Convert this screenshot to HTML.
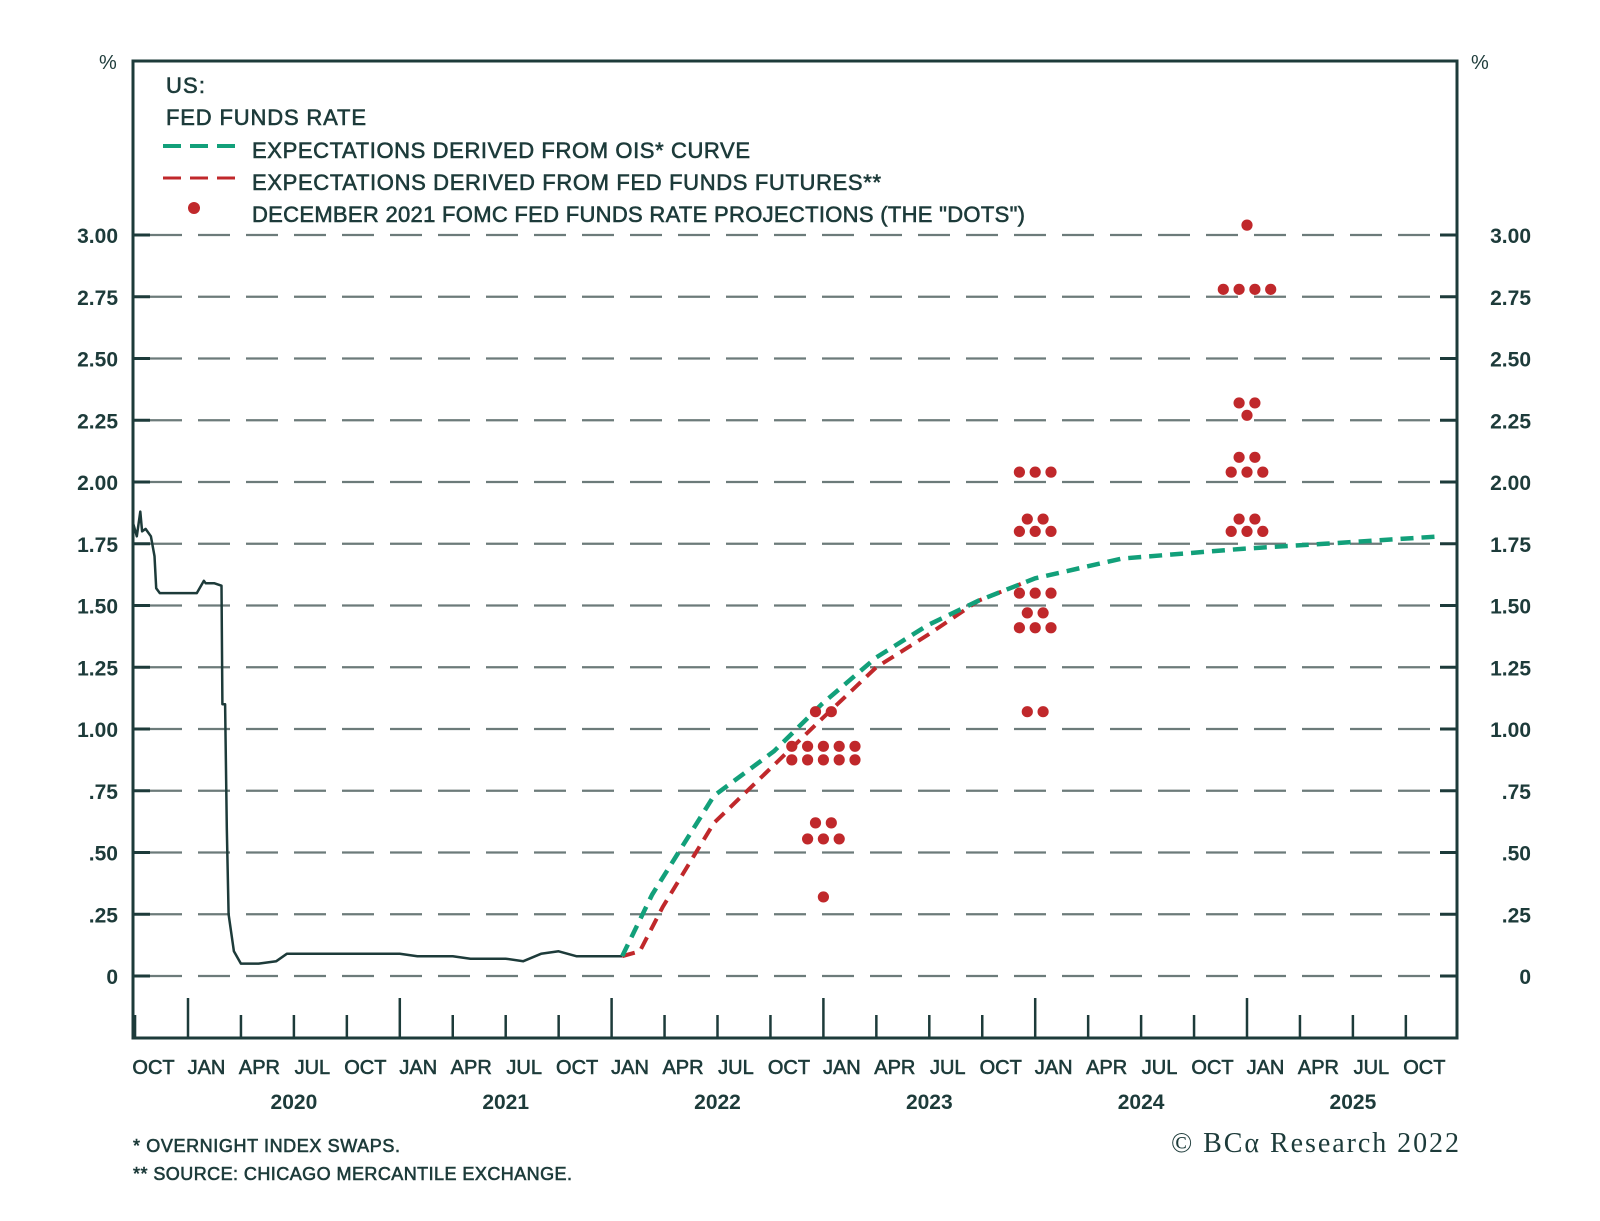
<!DOCTYPE html>
<html><head><meta charset="utf-8"><style>
body{margin:0;background:#fff}
svg{display:block}
text{font-family:"Liberation Sans",sans-serif;fill:#1d3b3a}
.med{stroke:#1d3b3a;stroke-width:0.6}
</style></head><body>
<svg id="chart" width="1600" height="1221" viewBox="0 0 1600 1221" xmlns="http://www.w3.org/2000/svg"></svg>
<script>
// ---- data ----
const yTicks = [0, 0.25, 0.5, 0.75, 1.0, 1.25, 1.5, 1.75, 2.0, 2.25, 2.5, 2.75, 3.0];
const yTickLabels = ["0", ".25", ".50", ".75", "1.00", "1.25", "1.50", "1.75", "2.00", "2.25", "2.50", "2.75", "3.00"];
const quarterLabels = ["OCT","JAN","APR","JUL","OCT","JAN","APR","JUL","OCT","JAN","APR","JUL","OCT","JAN","APR","JUL","OCT","JAN","APR","JUL","OCT","JAN","APR","JUL","OCT"];
const yearLabels = ["2020","2021","2022","2023","2024","2025"];
// months since Jan 2020
const ffMonths = [-3.1,-2.9,-2.7,-2.6,-2.4,-2.1,-1.9,-1.8,-1.6,-1.3,0,0.5,0.9,1.0,1.5,1.9,1.95,2.1,2.2,2.3,2.6,3.0,4.0,5.0,5.6,6.5,8,10,11,12,13,15,16,18,19,20,21,22,24.6];
const ffValues = [1.83,1.78,1.88,1.80,1.81,1.78,1.70,1.57,1.55,1.55,1.55,1.55,1.60,1.59,1.59,1.58,1.10,1.10,0.60,0.25,0.10,0.05,0.05,0.06,0.09,0.09,0.09,0.09,0.09,0.09,0.08,0.08,0.07,0.07,0.06,0.09,0.10,0.08,0.08];
const oisMonths = [24.6,26.3,29.8,33.2,35.9,39.0,41.9,44.8,48.0,52.9,59.8,64.4,71.0];
const oisValues = [0.08,0.33,0.73,0.91,1.10,1.29,1.42,1.52,1.61,1.69,1.73,1.75,1.78];
const futMonths = [24.6,25.6,26.9,29.8,32.7,35.9,39.0,41.9,44.8,48.0];
const futValues = [0.08,0.10,0.28,0.62,0.82,1.04,1.25,1.38,1.52,1.61];
// dot rows: month position, value, count
const dotMonths = [36,36,36,36,36,36, 48,48,48,48,48,48,48, 60,60,60,60,60,60,60,60];
const dotValues = [0.32,0.555,0.62,0.875,0.93,1.07, 1.07,1.41,1.47,1.55,1.80,1.85,2.04, 1.80,1.85,2.04,2.10,2.27,2.32,2.78,3.04];
const dotCounts = [1,3,2,5,5,2, 2,3,2,3,3,2,3, 3,2,3,2,1,2,4,1];

// ---- axes ----
const X0=188, XM=17.65, Y0=976, YU=247;
const xs = m => X0 + m*XM;
const ys = v => Y0 - v*YU;
const L=133,R=1457,T=61,B=1038;
const svg=document.getElementById('chart');
const NS="http://www.w3.org/2000/svg";
function mk(tag,attrs,parent){const e=document.createElementNS(NS,tag);for(const k in attrs)e.setAttribute(k,attrs[k]);(parent||svg).appendChild(e);return e;}

// gridlines & y labels
const grid=mk('g',{});


yTicks.forEach((v,i)=>{
  const y=ys(v);
  const gl=mk('line',{x1:L,x2:R,y1:y,y2:y,stroke:'#6c7b7a','stroke-width':2.2,'stroke-dasharray':'32 16','stroke-dashoffset':-17},grid);
  
  
  mk('line',{x1:L,x2:L+17,y1:y,y2:y,stroke:'#1d3b3a','stroke-width':3},grid);
  mk('line',{x1:R-17,x2:R,y1:y,y2:y,stroke:'#1d3b3a','stroke-width':3},grid);
  const tl=mk('text',{x:118,y:y+8,'text-anchor':'end','font-size':21,'font-weight':'bold'});
  tl.textContent=yTickLabels[i];
  
  
  const tr=mk('text',{x:1531,y:y+8,'text-anchor':'end','font-size':21,'font-weight':'bold'});
  tr.textContent=yTickLabels[i];
  
  
});

// frame
const fr=mk('rect',{x:L,y:T,width:R-L,height:B-T,fill:'none',stroke:'#1d3b3a','stroke-width':3});



// x ticks
for(let q=-1;q<=24;q++){
  const m=q*3, x=xs(m);
  if(x<=L||x>=R) continue;
  const major=(q%4===0);
  const t=mk('line',{x1:x,x2:x,y1:major?998:1015,y2:B,stroke:'#1d3b3a','stroke-width':2.5});
  
  
}
quarterLabels.forEach((lab,i)=>{
  const m=(i-1)*3+1.5;
  const t=mk('text',{x:xs(m)-8,y:1074,'text-anchor':'middle','font-size':20,'class':'med'});
  t.textContent=lab;
  
  
});
yearLabels.forEach((lab,i)=>{
  const t=mk('text',{x:xs(i*12+6),y:1109,'text-anchor':'middle','font-size':21,'font-weight':'bold'});
  t.textContent=lab;
  
  
});

// series
function path(ms,vs){return ms.map((m,i)=>(i?'L':'M')+xs(m).toFixed(1)+' '+ys(vs[i]).toFixed(1)).join(' ');}
const ff=mk('path',{d:path(ffMonths,ffValues),fill:'none',stroke:'#1d3b3a','stroke-width':2.5,'stroke-linejoin':'round'});


const fut=mk('path',{d:path(futMonths,futValues),fill:'none',stroke:'#c0282b','stroke-width':4,'stroke-dasharray':'13 8'});


const ois=mk('path',{d:path(oisMonths,oisValues),fill:'none',stroke:'#12a07a','stroke-width':4.5,'stroke-dasharray':'13 8'});



// dots
const dg=mk('g',{});


dotMonths.forEach((m,i)=>{
  const n=dotCounts[i], cx=xs(m), cy=ys(dotValues[i]);
  for(let k=0;k<n;k++){
    const c=mk('circle',{cx:cx+(k-(n-1)/2)*15.8,cy:cy,r:5.6,fill:'#c0282b'},dg);
    
    
  }
});

// text
function txt(s,x,y,size,name,extra){const t=mk('text',Object.assign({x:x,y:y,'font-size':size},extra||{}));t.textContent=s;return t;}
txt('%',99,69,20,'y-unit-left');
txt('%',1471,69,20,'y-unit-right');
txt('US:',166,93,22,'chart-title-line1',{textLength:39,'class':'med'});
txt('FED FUNDS RATE',166,125,22,'chart-title-line2',{textLength:200,'class':'med'});
txt('EXPECTATIONS DERIVED FROM OIS* CURVE',252,158,22,'legend-ois-label',{textLength:498,'class':'med'});
txt('EXPECTATIONS DERIVED FROM FED FUNDS FUTURES**',252,190,22,'legend-futures-label',{textLength:629,'class':'med'});
txt('DECEMBER 2021 FOMC FED FUNDS RATE PROJECTIONS (THE "DOTS")',252,222,22,'legend-dots-label',{textLength:773,'class':'med'});
const l1=mk('line',{x1:163,x2:241,y1:146,y2:146,stroke:'#12a07a','stroke-width':4,'stroke-dasharray':'18 9'});

const l2=mk('line',{x1:163,x2:241,y1:178,y2:178,stroke:'#c0282b','stroke-width':3,'stroke-dasharray':'18 9'});

const l3=mk('circle',{cx:194,cy:208,r:6,fill:'#c0282b'});

txt('* OVERNIGHT INDEX SWAPS.',133,1152,18,'footnote-ois',{textLength:267,'class':'med'});
txt('** SOURCE: CHICAGO MERCANTILE EXCHANGE.',133,1180,18,'footnote-source',{textLength:439,'class':'med'});
const cr=txt('© BCα Research 2022',1171,1152,28,'copyright',{textLength:288});
cr.style.fontFamily='"Liberation Serif",serif';
</script>
</body></html>
